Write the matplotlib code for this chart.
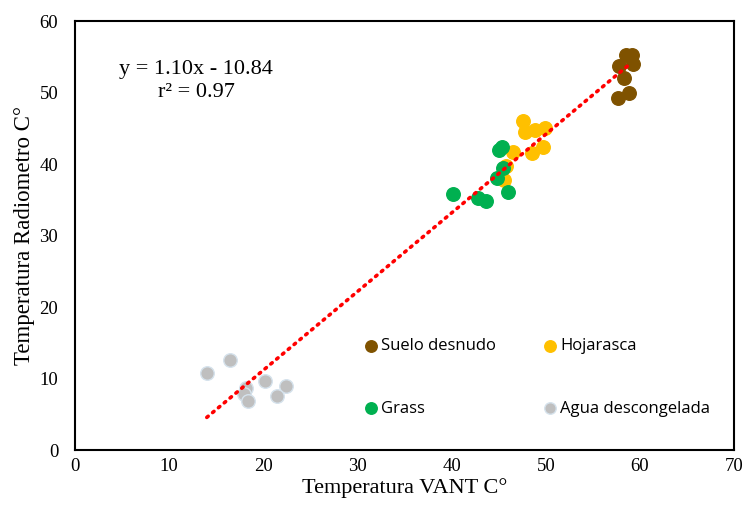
import numpy as np
import matplotlib.pyplot as plt

# Temperatura VANT (x) vs Temperatura Radiometro (y)
suelo_x = [57.8, 58.5, 59.2, 59.3, 58.3, 58.8, 57.7]
suelo_y = [53.7, 55.2, 55.2, 54.0, 52.0, 49.9, 49.2]

hoja_x = [47.6, 47.8, 48.9, 49.9, 49.7, 48.5, 46.5, 45.8, 45.6]
hoja_y = [46.0, 44.5, 44.8, 45.0, 42.4, 41.5, 41.7, 39.7, 37.8]

grass_x = [45.0, 45.4, 45.5, 44.8, 46.0, 40.2, 42.8, 43.7]
grass_y = [42.0, 42.4, 39.4, 38.1, 36.1, 35.8, 35.2, 34.8]

agua_x = [14.0, 16.5, 20.2, 22.4, 21.5, 18.2, 17.9, 18.4]
agua_y = [10.8, 12.6, 9.7, 9.0, 7.6, 8.7, 7.8, 6.9]

slope, intercept = 1.10, -10.84
trend_x = [14.0, 59.0]

series = {
    "Suelo desnudo": (suelo_x, suelo_y, "#7F5200", "#7F5200"),
    "Hojarasca": (hoja_x, hoja_y, "#FFC000", "#FFC000"),
    "Grass": (grass_x, grass_y, "#00B050", "#00B050"),
    "Agua descongelada": (agua_x, agua_y, "#BFBFBF", "#D5E2EC"),
}

fig = plt.figure(figsize=(7.46, 5.13), dpi=100)
ax = fig.add_axes([0.1005, 0.1228, 0.8835, 0.8362])

handles = {}
for name, (xs, ys, fc, ec) in series.items():
    handles[name] = ax.scatter(xs, ys, s=95, c=fc, edgecolors=ec, linewidths=1.0,
                               label=name, zorder=3)

tx = np.array(trend_x)
ax.plot(tx, slope * tx + intercept, color="#FF0000", linestyle=(0, (0.5, 1.6)),
        linewidth=2.6, dash_capstyle="round", zorder=4)

ax.set_xlim(0, 70)
ax.set_ylim(0, 60)
ax.set_xticks(range(0, 71, 10))
ax.set_yticks(range(0, 61, 10))
ax.tick_params(length=0, labelsize=13.5)
ax.tick_params(axis="x", pad=6)
ax.tick_params(axis="y", pad=12)
for lab in ax.get_xticklabels() + ax.get_yticklabels():
    lab.set_fontfamily("Liberation Serif")
for sp in ax.spines.values():
    sp.set_linewidth(1.5)
    sp.set_color("black")

ax.set_xlabel("Temperatura VANT C°", fontfamily="Liberation Serif", fontsize=16, labelpad=2)
ax.set_ylabel("Temperatura Radiometro C°", fontfamily="Liberation Serif", fontsize=16.5, labelpad=3)

ax.text(12.85, 51.6, "y = 1.10x - 10.84\nr² = 0.97", ha="center", va="center",
        fontfamily="Liberation Serif", fontsize=16, linespacing=1.3)

# column-major fill: row 1 Suelo/Hojarasca, row 2 Grass/Agua
order = ["Suelo desnudo", "Grass", "Hojarasca", "Agua descongelada"]
leg = ax.legend(handles=[handles[k] for k in order], ncol=2, frameon=False,
                loc="upper left", bbox_to_anchor=(0.413, 0.295),
                prop={"family": "Open Sans", "size": 12},
                handletextpad=0.1, columnspacing=2.8, labelspacing=2.78,
                markerscale=0.85, handlelength=1.0)

fig.savefig("out.png", dpi=100)
